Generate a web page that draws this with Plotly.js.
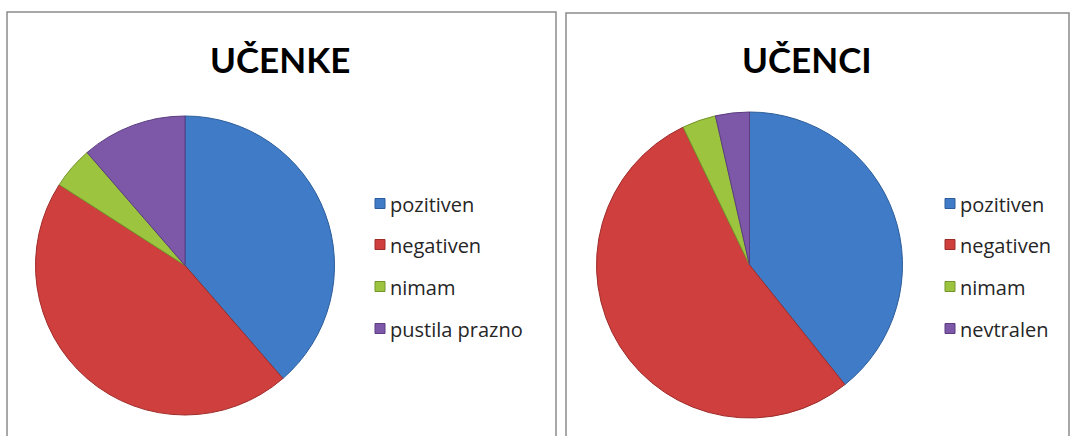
<!DOCTYPE html>
<html><head><meta charset="utf-8">
<script src="https://cdn.plot.ly/plotly-3.0.1.min.js"></script>
<style>html,body{margin:0;padding:0;background:#fff}#c{width:1072px;height:436px}</style>
</head><body><div id="c"></div>
<script>
const titleLeft = "UČENKE";
const titleRight = "UČENCI";
const labelsLeft = ["pozitiven", "negativen", "nimam", "pustila prazno"];
const labelsRight = ["pozitiven", "negativen", "nimam", "nevtralen"];
const valuesLeft = [17, 20, 2, 5];
const valuesRight = [11, 15, 1, 1];
const colors = ["#3f7bc6", "#cf3f3d", "#9cc43f", "#7d57a8"];
const lineColors = ["#2c5d9a", "#9e2c2a", "#74952c", "#5b3d80"];

const W = 1072, H = 436;
const px = x => x / W, py = y => 1 - y / H;

function pie(labels, values, x0, x1, y0, y1) {
  return {
    type: "pie", labels: labels, values: values, sort: false, direction: "clockwise",
    rotation: 0, textinfo: "none", hoverinfo: "label+percent", showlegend: false,
    marker: {colors: colors, line: {color: lineColors, width: 1}},
    domain: {x: [px(x0), px(x1)], y: [py(y1), py(y0)]}
  };
}

const data = [
  pie(labelsLeft, valuesLeft, 33, 337, 116, 415),
  pie(labelsRight, valuesRight, 592, 907, 112, 418)
];

const shapes = [
  {type: "rect", xref: "paper", yref: "paper", x0: px(7), x1: px(556), y0: py(12), y1: -0.05,
   line: {color: "#8c8c8c", width: 1.5}},
  {type: "rect", xref: "paper", yref: "paper", x0: px(566), x1: px(1069), y0: py(13), y1: -0.05,
   line: {color: "#8c8c8c", width: 1.5}}
];
const annotations = [
  {text: "<b>" + titleLeft + "</b>", x: px(280), y: py(59), xref: "paper", yref: "paper",
   showarrow: false, xanchor: "center", yanchor: "middle", font: {family: "Lato", size: 35, color: "#000"}},
  {text: "<b>" + titleRight + "</b>", x: px(807), y: py(59), xref: "paper", yref: "paper",
   showarrow: false, xanchor: "center", yanchor: "middle", font: {family: "Lato", size: 35, color: "#000"}}
];

function legend(labels, sqX, txtX) {
  const rows = [204, 245, 287, 329];
  labels.forEach((lab, i) => {
    shapes.push({type: "rect", xref: "paper", yref: "paper",
      x0: px(sqX), x1: px(sqX + 10), y0: py(rows[i] + 4.5), y1: py(rows[i] - 5.5),
      fillcolor: colors[i], line: {color: lineColors[i], width: 1}});
    annotations.push({text: lab, x: px(txtX), y: py(rows[i]), xref: "paper", yref: "paper",
      showarrow: false, xanchor: "left", yanchor: "middle",
      font: {family: "Open Sans", size: 20, color: "#262626"}});
  });
}
legend(labelsLeft, 375, 388);
legend(labelsRight, 945, 958);

Plotly.newPlot("c", data, {
  width: W, height: H, margin: {l: 0, r: 0, t: 0, b: 0},
  paper_bgcolor: "#fff", plot_bgcolor: "#fff",
  shapes: shapes, annotations: annotations
}, {displayModeBar: false, staticPlot: true});
</script></body></html>
